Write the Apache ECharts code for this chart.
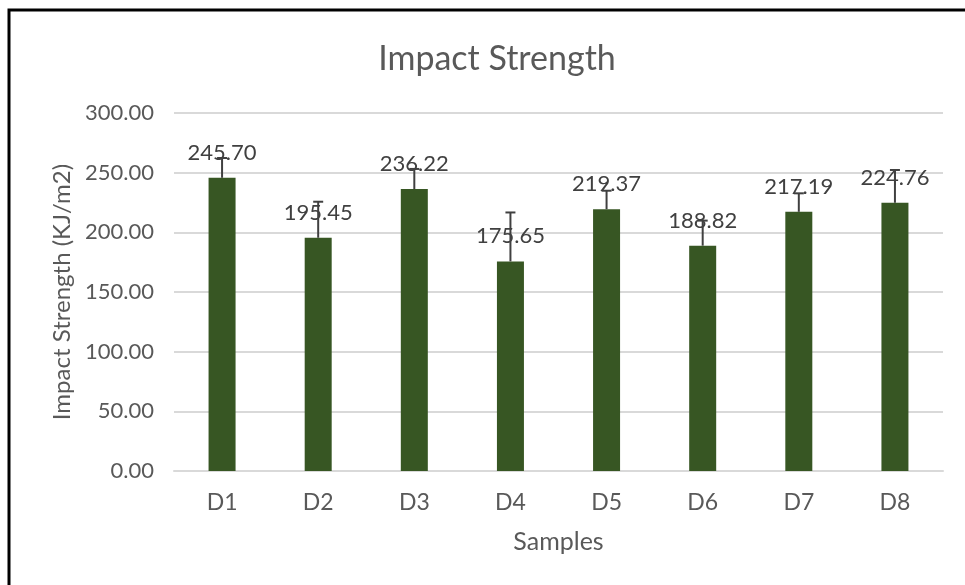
<!DOCTYPE html>
<html>
<head>
<meta charset="utf-8">
<script src="https://cdn.jsdelivr.net/npm/echarts@6/dist/echarts.min.js"></script>
<style>
  html, body { margin: 0; padding: 0; background: #fff; }
  #chart { width: 965px; height: 585px; }
</style>
</head>
<body>
<div id="chart"></div>
<script>
// Sample names and measured impact strength (mean and positive deviation)
const samples = ['D1', 'D2', 'D3', 'D4', 'D5', 'D6', 'D7', 'D8'];
const strength = [245.70, 195.45, 236.22, 175.65, 219.37, 188.82, 217.19, 224.76];
const deviation = [16.6, 30.2, 16.9, 41.0, 15.5, 21.0, 15.5, 27.5];
const yTicks = [0, 50, 100, 150, 200, 250, 300];

const FONT = 'Lato';
const TEXT = '#595959';

const chart = echarts.init(document.getElementById('chart'));

// Error bar glyph: vertical stem from the bar top plus a short cap
function renderErrorBar(params, api) {
  const i = api.value(0);
  const base = api.coord([i, api.value(1)]);
  const top = api.coord([i, api.value(1) + api.value(2)]);
  const half = 5;
  const style = { stroke: '#404040', lineWidth: 2 };
  return {
    type: 'group',
    children: [
      { type: 'line', shape: { x1: base[0], y1: base[1], x2: top[0], y2: top[1] }, style },
      { type: 'line', shape: { x1: top[0] - half, y1: top[1], x2: top[0] + half, y2: top[1] }, style }
    ]
  };
}

chart.setOption({
  backgroundColor: '#ffffff',
  animation: false,
  title: {
    text: 'Impact Strength',
    left: 492,
    textAlign: 'center',
    top: 37,
    textStyle: { fontFamily: FONT, fontSize: 34, fontWeight: 'normal', color: TEXT }
  },
  grid: { left: 174, right: 22, top: 113, bottom: 114 },
  xAxis: {
    type: 'category',
    data: samples,
    name: 'Samples',
    nameLocation: 'middle',
    nameGap: 58,
    nameTextStyle: { fontFamily: FONT, fontSize: 25, color: TEXT },
    axisLine: { show: true, lineStyle: { color: '#d9d9d9', width: 2 } },
    axisTick: { show: false },
    axisLabel: { fontFamily: FONT, fontSize: 23, color: TEXT, margin: 20 }
  },
  yAxis: {
    type: 'value',
    min: yTicks[0],
    max: yTicks[yTicks.length - 1],
    interval: 50,
    name: 'Impact Strength (KJ/m2)',
    nameLocation: 'middle',
    nameRotate: 90,
    nameGap: 100,
    nameTextStyle: { fontFamily: FONT, fontSize: 24, color: TEXT },
    axisLine: { show: false },
    axisTick: { show: false },
    splitLine: { lineStyle: { color: '#d9d9d9', width: 2 } },
    axisLabel: {
      fontFamily: FONT, fontSize: 22, color: TEXT, margin: 20,
      formatter: v => v.toFixed(2)
    }
  },
  series: [
    {
      type: 'bar',
      data: strength,
      barWidth: 27,
      itemStyle: { color: '#375623' },
      label: {
        show: true,
        position: 'top',
        distance: 14,
        fontFamily: FONT,
        fontSize: 22,
        color: '#404040',
        formatter: p => p.value.toFixed(2)
      },
      z: 2
    },
    {
      type: 'custom',
      renderItem: renderErrorBar,
      data: strength.map((v, i) => [i, v, deviation[i]]),
      encode: { x: 0, y: 1 },
      z: 3
    }
  ],
  graphic: [
    {
      type: 'rect',
      shape: { x: 9, y: 10, width: 1200, height: 1200 },
      style: { fill: 'none', stroke: '#000', lineWidth: 3 },
      silent: true
    }
  ]
});
</script>
</body>
</html>
